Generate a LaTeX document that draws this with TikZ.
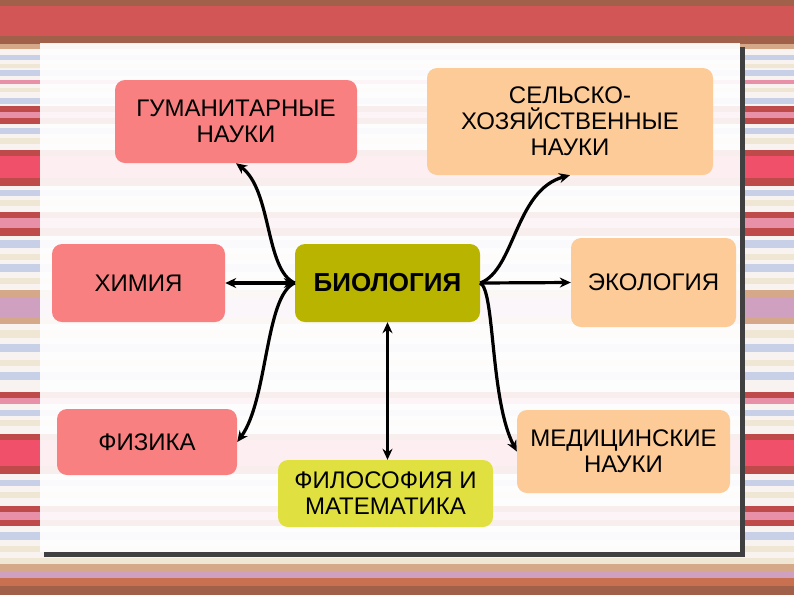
\documentclass[tikz,border=0pt]{standalone}
\usepackage{fontspec}
\setmainfont{Liberation Sans}
\usetikzlibrary{arrows.meta}
\definecolor{bgBrown}{HTML}{A0604A}
\definecolor{bgRed}{HTML}{D35656}
\definecolor{bgRedD}{HTML}{BE4A4A}
\definecolor{bgHot}{HTML}{F0506A}
\definecolor{bgPink}{HTML}{E890A8}
\definecolor{bgMauve}{HTML}{D0A0C0}
\definecolor{bgBlue}{HTML}{C8D0E8}
\definecolor{bgCream}{HTML}{F0E6D4}
\definecolor{bgLight}{HTML}{F8F2F0}
\definecolor{bgTan}{HTML}{D4A888}
\definecolor{bgOrange}{HTML}{C87050}
\definecolor{boxPink}{HTML}{F88080}
\definecolor{boxPeach}{HTML}{FCCB98}
\definecolor{boxOlive}{HTML}{B9B400}
\definecolor{boxYellow}{HTML}{E0E040}
\tikzset{
  box/.style={rectangle, rounded corners=10pt, draw=none, align=center,
    inner sep=0pt, font=\fontsize{24}{26}\selectfont, text=black},
  conn/.style={line width=3.2pt, black, -{Stealth[length=11pt,width=10pt]}},
  conn2/.style={line width=3.2pt, black, {Stealth[length=11pt,width=10pt]}-{Stealth[length=11pt,width=10pt]}}
}
\begin{document}
\begin{tikzpicture}[x=1pt,y=-1pt]
\useasboundingbox (0,0) rectangle (794,595);
% background stripes
\fill[bgLight] (0,0) rectangle (794,595);
\foreach \ya/\yb/\c in {0/6/bgBrown,6/36/bgRed,36/44/bgBrown,44/49/bgTan,55/60/bgBlue,64/68/bgCream,70/76/bgBlue,80/84/bgPink,88/92/bgCream,98/104/bgBlue,106/112/bgRedD,112/118/bgPink,118/124/bgRedD,128/134/bgBlue,138/144/bgCream,150/156/bgRedD,156/178/bgHot,178/186/bgRedD,190/196/bgBlue,200/206/bgCream,212/218/bgRedD,218/228/bgPink,228/236/bgRedD,240/248/bgBlue,254/260/bgCream,264/272/bgBlue,278/284/bgCream,290/298/bgTan,298/318/bgMauve,318/324/bgTan,330/338/bgCream,344/352/bgBlue,360/366/bgCream,372/380/bgBlue,392/398/bgRedD,398/404/bgPink,410/416/bgBlue,420/426/bgCream,434/440/bgRedD,440/466/bgHot,466/474/bgRedD,480/486/bgBlue,492/498/bgCream,506/512/bgRedD,512/520/bgPink,520/526/bgRedD,532/540/bgBlue,546/552/bgCream,558/564/bgCream,564/572/bgTan,572/578/bgMauve,578/586/bgOrange,586/595/bgBrown}
  \fill[\c] (0,\ya) rectangle (794,\yb);
% panel shadow (right and bottom strips only)
\fill[black!75] (740,47) rectangle (745,557);
\fill[black!75] (44,552) rectangle (745,557);
% panel
\fill[white, fill opacity=0.91] (40,43) rectangle (740,552);
% nodes
\node[box, fill=boxPink, minimum width=242pt, minimum height=83pt] (gum) at (236,121.5) {ГУМАНИТАРНЫЕ\\НАУКИ};
\node[box, fill=boxPink, minimum width=173pt, minimum height=78pt] (him) at (138.5,283) {ХИМИЯ};
\node[box, fill=boxOlive, minimum width=185pt, minimum height=78pt, font=\fontsize{26}{28}\selectfont\bfseries] (bio) at (387.5,283) {БИОЛОГИЯ};
\node[box, fill=boxPeach, minimum width=286pt, minimum height=107pt] (sel) at (570,121.5) {СЕЛЬСКО-\\ХОЗЯЙСТВЕННЫЕ\\НАУКИ};
\node[box, fill=boxPeach, minimum width=165pt, minimum height=89pt] (eco) at (653.5,282.5) {ЭКОЛОГИЯ};
\node[box, fill=boxPink, minimum width=180pt, minimum height=66pt] (fiz) at (147,442) {ФИЗИКА};
\node[box, fill=boxYellow, minimum width=215pt, minimum height=67pt] (fil) at (385.5,493.5) {ФИЛОСОФИЯ И\\МАТЕМАТИКА};
\node[box, fill=boxPeach, minimum width=213pt, minimum height=83pt] (med) at (623.5,451.5) {МЕДИЦИНСКИЕ\\НАУКИ};
% connectors
\draw[conn2] (him.east) -- (bio.west);
\draw[conn] (bio.west) .. controls (265,270) and (272,190) .. (gum.south);
\draw[conn] (bio.west) .. controls (265,295) and (268,400) .. (fiz.east);
\draw[conn] (bio.east) -- (eco.west);
\draw[conn] (bio.east) .. controls (515,270) and (515,190) .. (sel.south);
\draw[conn] (bio.east) .. controls (495,290) and (490,400) .. (med.west);
\draw[conn2] (bio.south) -- (bio.south |- fil.north);
\end{tikzpicture}
\end{document}
